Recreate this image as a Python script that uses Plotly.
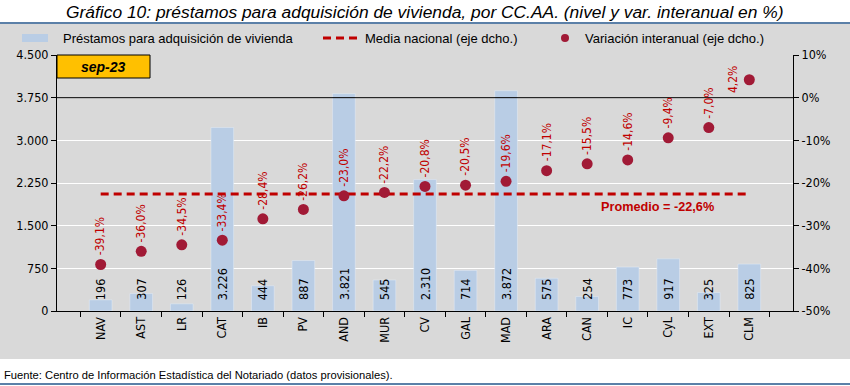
import plotly.graph_objects as go

categories = ["NAV", "AST", "LR", "CAT", "IB", "PV", "AND", "MUR", "CV", "GAL",
              "MAD", "ARA", "CAN", "IC", "CyL", "EXT", "CLM"]
prestamos = [196, 307, 126, 3226, 444, 887, 3821, 545, 2310, 714,
             3872, 575, 254, 773, 917, 325, 825]
variacion = [-39.1, -36.0, -34.5, -33.4, -28.4, -26.2, -23.0, -22.2, -20.8, -20.5,
             -19.6, -17.1, -15.5, -14.6, -9.4, -7.0, 4.2]
media_nacional = -22.6
left_ticks = [0, 750, 1500, 2250, 3000, 3750, 4500]
right_ticks = [-50, -40, -30, -20, -10, 0, 10]

W, H = 850, 386
L, R, T, B = 57, 57, 55, 75
PW, PH = W - L - R, H - T - B


def px(x):
    return (x - L) / PW


def py(y):
    return (H - B - y) / PH


BAR_C = "#b9cde5"
DOT_C = "#a11a36"
RED_C = "#c00000"
GREY = "#d9d9d9"
TICKF = "DejaVu Sans Condensed, DejaVu Sans, sans-serif"
LEGF = "Liberation Sans, Arial, sans-serif"
NARROW = "Liberation Sans Narrow, Arial Narrow, Liberation Sans, sans-serif"
TS = 12.5


def fmt_thousands(v):
    return f"{v:,}".replace(",", ".")


def fmt_pct(v):
    return f"{v:.1f}".replace(".", ",") + "%"


fig = go.Figure()
fig.add_trace(go.Bar(x=categories, y=prestamos, marker_color=BAR_C,
                     name="Préstamos para adquisición de vivienda", yaxis="y",
                     showlegend=False))
fig.add_trace(go.Scatter(x=categories, y=[media_nacional] * len(categories),
                         mode="lines", yaxis="y2",
                         line=dict(color=RED_C, width=3, dash="8px,5px"),
                         name="Media nacional (eje dcho.)", showlegend=False))
fig.add_trace(go.Scatter(x=categories, y=variacion, mode="markers", yaxis="y2",
                         marker=dict(color=DOT_C, size=11),
                         name="Variación interanual (eje dcho.)", showlegend=False))

annotations = []
for c, v in zip(categories, prestamos):
    annotations.append(dict(x=c, y=0, xref="x", yref="y", text=fmt_thousands(v),
                            showarrow=False, textangle=-90, yanchor="bottom",
                            xanchor="center", yshift=9,
                            font=dict(family=TICKF, size=TS, color="#000000")))
for c, v in zip(categories, variacion):
    if v > 0:
        # no room above: label sits to the left of the point
        annotations.append(dict(x=c, y=v, xref="x", yref="y2", text=fmt_pct(v),
                                showarrow=False, textangle=-90, yanchor="middle",
                                xanchor="right", xshift=-8, yshift=0,
                                font=dict(family=TICKF, size=12, color=RED_C)))
    else:
        annotations.append(dict(x=c, y=v, xref="x", yref="y2", text=fmt_pct(v),
                                showarrow=False, textangle=-90, yanchor="bottom",
                                xanchor="center", yshift=7,
                                font=dict(family=TICKF, size=12, color=RED_C)))

annotations.append(dict(x=px(657), y=media_nacional, xref="paper", yref="y2",
                        text="<b>Promedio = " + fmt_pct(media_nacional) + "</b>",
                        showarrow=False, yshift=-13, xanchor="center", yanchor="middle",
                        font=dict(family=LEGF, size=12.7, color=RED_C)))
# title
annotations.append(dict(x=0.5, y=py(12), xref="paper", yref="paper",
                        xanchor="center", yanchor="middle", showarrow=False,
                        text="<i>Gráfico 10: préstamos para adquisición de vivienda, por CC.AA. (nivel y var. interanual en %)</i>",
                        font=dict(family=NARROW, size=17.4, color="#000000")))
# sep-23 box label
annotations.append(dict(x=px(103.5), y=py(66.5), xref="paper", yref="paper",
                        xanchor="center", yanchor="middle", showarrow=False,
                        text="<b><i>sep-23</i></b>",
                        font=dict(family=LEGF, size=14, color="#000000")))
# legend texts
leg_y = py(38)
annotations.append(dict(x=px(61), y=leg_y, xref="paper", yref="paper", xanchor="left",
                        yanchor="middle", showarrow=False,
                        text="Préstamos para adquisición de vivienda",
                        font=dict(family=LEGF, size=13, color="#000000")))
annotations.append(dict(x=px(363), y=leg_y, xref="paper", yref="paper", xanchor="left",
                        yanchor="middle", showarrow=False,
                        text="Media nacional (eje dcho.)",
                        font=dict(family=LEGF, size=13, color="#000000")))
annotations.append(dict(x=px(583), y=leg_y, xref="paper", yref="paper", xanchor="left",
                        yanchor="middle", showarrow=False,
                        text="Variación interanual (eje dcho.)",
                        font=dict(family=LEGF, size=13, color="#000000")))
# footer
annotations.append(dict(x=px(2), y=py(375), xref="paper", yref="paper", xanchor="left",
                        yanchor="middle", showarrow=False,
                        text="Fuente: Centro de Información Estadística del Notariado (datos provisionales).",
                        font=dict(family=NARROW, size=11.2, color="#000000")))

shapes = [
    # grey background band
    dict(type="rect", xref="paper", yref="paper", x0=px(0), x1=px(850),
         y0=py(359), y1=py(24), fillcolor=GREY, line_width=0, layer="below"),
    # top and bottom blue rules
    dict(type="line", xref="paper", yref="paper", x0=px(0), x1=px(850),
         y0=py(23), y1=py(23), line=dict(color="#5b80a8", width=2)),
    dict(type="line", xref="paper", yref="paper", x0=px(0), x1=px(850),
         y0=py(384), y1=py(384), line=dict(color="#5b80a8", width=2)),
    # 0% line on right axis
    dict(type="line", xref="paper", yref="y2", x0=0, x1=1, y0=0, y1=0,
         line=dict(color="#000000", width=1), layer="above"),
    # sep-23 box
    dict(type="rect", xref="paper", yref="paper", x0=px(57), x1=px(150),
         y0=py(78), y1=py(55), fillcolor="#ffc000",
         line=dict(color="#000000", width=1), layer="above"),
    # legend swatches
    dict(type="rect", xref="paper", yref="paper", x0=px(22), x1=px(48),
         y0=py(42), y1=py(34), fillcolor=BAR_C, line_width=0),
    dict(type="line", xref="paper", yref="paper", x0=px(323), x1=px(358),
         y0=leg_y, y1=leg_y, line=dict(color=RED_C, width=3, dash="8px,5px")),
    dict(type="circle", xref="paper", yref="paper", x0=px(561), x1=px(569),
         y0=py(42), y1=py(34), fillcolor=DOT_C, line_width=0),
]

fig.update_layout(
    width=W, height=H,
    margin=dict(l=L, r=R, t=T, b=B, pad=0),
    paper_bgcolor="#ffffff", plot_bgcolor=GREY,
    separators=",.",
    bargap=0.44,
    showlegend=False,
    annotations=annotations,
    shapes=shapes,
    xaxis=dict(type="category", showline=True, linecolor="#000000", linewidth=1,
               ticks="outside", tickson="boundaries", ticklen=5, tickcolor="#000000",
               tickangle=-90, showgrid=False,
               tickfont=dict(family=TICKF, size=TS, color="#000000")),
    yaxis=dict(range=[0, 4500], tickvals=left_ticks,
               ticktext=[fmt_thousands(v) for v in left_ticks],
               showline=True, linecolor="#000000", linewidth=1,
               ticks="outside", ticklen=5, tickcolor="#000000",
               showgrid=True, gridcolor="#ffffff", gridwidth=1, zeroline=False,
               tickfont=dict(family=TICKF, size=TS, color="#000000")),
    yaxis2=dict(range=[-50, 10], tickvals=right_ticks,
                ticktext=[f"{v}%" for v in right_ticks],
                overlaying="y", side="right",
                showline=True, linecolor="#000000", linewidth=1,
                ticks="outside", ticklen=5, tickcolor="#000000",
                showgrid=False, zeroline=False,
                tickfont=dict(family=TICKF, size=TS, color="#000000")),
)

fig.write_html("out.html",
               config={"displayModeBar": False},
               post_script="document.body.style.margin='0';document.body.style.overflow='hidden';")
